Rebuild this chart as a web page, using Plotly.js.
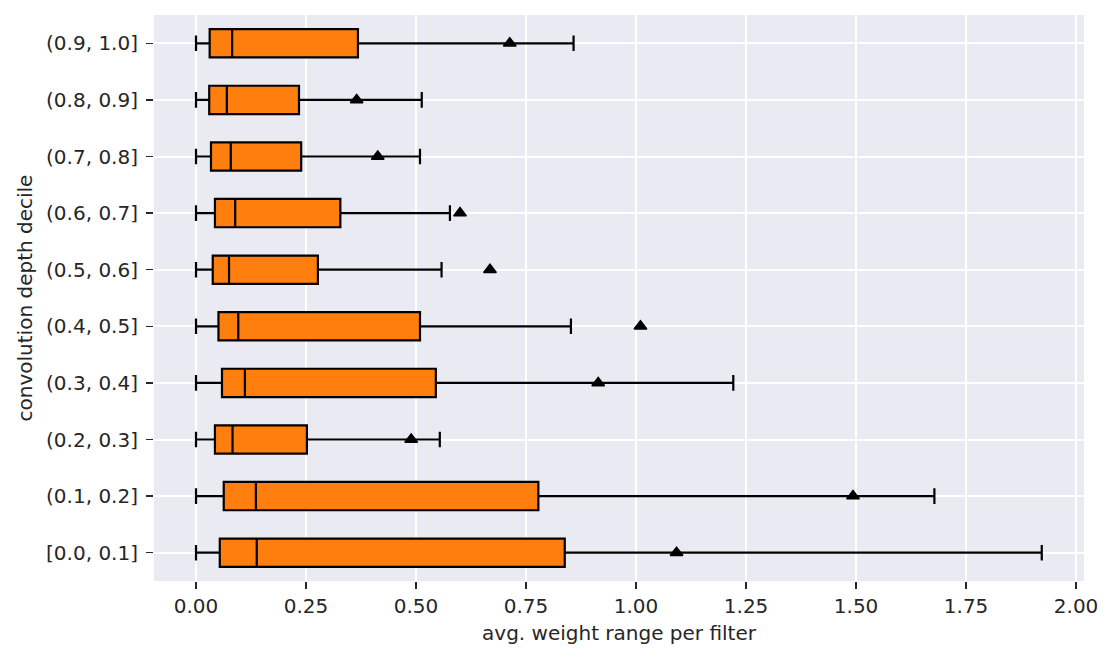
<!DOCTYPE html>
<html>
<head>
<meta charset="utf-8">
<script src="https://cdn.plot.ly/plotly-3.0.1.min.js"></script>
<style>
  html, body { margin: 0; padding: 0; background: #fff; }
  #chart { width: 1115px; height: 660px; }
</style>
</head>
<body>
<div id="chart"></div>
<script>
// deciles, bottom to top
let deciles = ['[0.0, 0.1]','(0.1, 0.2]','(0.2, 0.3]','(0.3, 0.4]','(0.4, 0.5]',
               '(0.5, 0.6]','(0.6, 0.7]','(0.7, 0.8]','(0.8, 0.9]','(0.9, 1.0]'];
let lowWhisker = [0.0, 0.0, 0.0, 0.0, 0.0, 0.0, 0.0, 0.0, 0.0, 0.0];
let q1 = [0.054, 0.063, 0.043, 0.059, 0.051, 0.038, 0.043, 0.034, 0.030, 0.031];
let medians = [0.138, 0.136, 0.083, 0.111, 0.096, 0.075, 0.089, 0.079, 0.070, 0.082];
let q3 = [0.838, 0.778, 0.252, 0.545, 0.509, 0.277, 0.328, 0.239, 0.234, 0.368];
let highWhisker = [1.922, 1.678, 0.554, 1.221, 0.852, 0.558, 0.577, 0.509, 0.513, 0.858];
let means = [1.092, 1.493, 0.489, 0.914, 1.010, 0.668, 0.600, 0.413, 0.365, 0.713];
let xTicks = [0, 0.25, 0.5, 0.75, 1.0, 1.25, 1.5, 1.75, 2.0];

let textColor = '#262626';

let boxes = {
  type: 'box', orientation: 'h',
  y: deciles, q1: q1, median: medians, q3: q3,
  lowerfence: lowWhisker, upperfence: highWhisker,
  width: 0.5, whiskerwidth: 0.55,
  fillcolor: '#ff7f0e',
  line: {color: '#000', width: 2.2},
  boxpoints: false, hoverinfo: 'skip', showlegend: false
};

let meanMarks = {
  type: 'scatter', mode: 'markers',
  x: means, y: deciles,
  marker: {symbol: 'triangle-up', size: 11, color: '#000', line: {color: '#000', width: 1.5}},
  hoverinfo: 'skip', showlegend: false
};

let layout = {
  width: 1115, height: 660,
  margin: {l: 154, r: 31, t: 15, b: 79},
  paper_bgcolor: '#fff', plot_bgcolor: '#EAEAF2',
  font: {family: 'DejaVu Sans', size: 20, color: textColor},
  xaxis: {
    range: [-0.0955, 2.018],
    tickvals: xTicks, tickformat: '.2f',
    showgrid: true, gridcolor: '#fff', gridwidth: 2,
    zeroline: false, showline: false,
    ticks: 'outside', ticklen: 7, tickwidth: 1.5, tickcolor: textColor,
    title: {text: 'avg. weight range per filter', font: {size: 20, color: textColor}, standoff: 8}
  },
  yaxis: {
    type: 'category', categoryorder: 'array', categoryarray: deciles,
    range: [-0.5, 9.5],
    showgrid: true, gridcolor: '#fff', gridwidth: 2,
    zeroline: false, showline: false,
    ticks: 'outside', ticklen: 7, tickwidth: 1.5, tickcolor: textColor,
    ticklabelstandoff: 4,
    title: {text: 'convolution depth decile', font: {size: 20, color: textColor}, standoff: 8}
  }
};

Plotly.newPlot('chart', [boxes, meanMarks], layout, {staticPlot: true});
</script>
</body>
</html>
